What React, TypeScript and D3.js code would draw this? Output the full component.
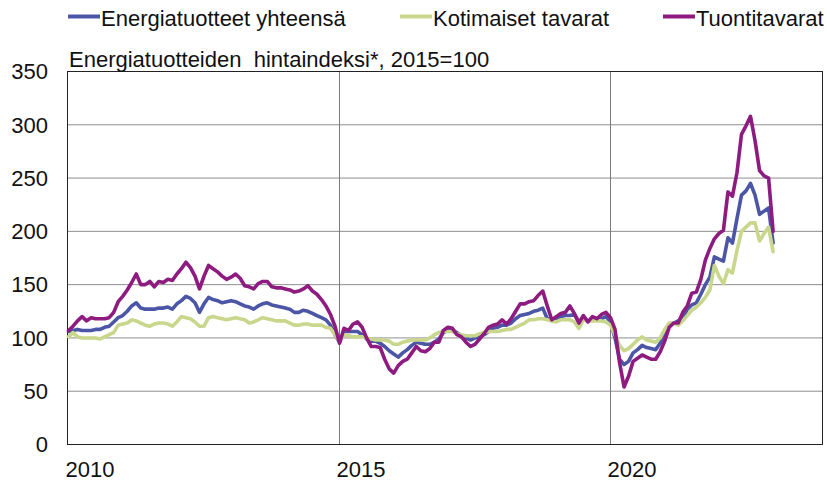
import React from "react";
import * as d3 from "d3";

// Monthly values, Jan 2010 = index 0
const energyTotal: number[] = [
  106,107,108,107,107,107,108,108,110,111,
  115,119,121,125,130,133,128,127,127,127,
  128,128,129,127,132,135,139,137,133,124,
  132,138,136,135,133,134,135,134,132,130,
  129,127,130,132,133,131,130,129,128,127,
  124,124,126,125,123,121,119,117,112,103,
  96,106,106,106,106,103,99,97,97,95,
  92,88,85,82,86,89,93,96,95,94,
  94,96,99,105,107,107,105,102,100,98,
  100,101,103,106,109,110,112,112,114,118,
  121,122,123,125,126,128,118,117,118,120,
  121,121,122,115,119,116,117,117,118,120,
  115,100,80,75,78,86,89,93,91,90,
  89,95,103,112,114,116,118,127,131,133,
  141,150,157,176,174,172,194,189,212,234,
  238,245,234,216,219,222,189,
];

const domestic: number[] = [
  101,105,101,100,100,100,100,99,101,103,
  105,112,113,114,117,116,114,112,111,113,
  114,114,113,111,115,120,119,118,115,111,
  111,119,120,119,118,117,118,119,118,117,
  114,115,117,119,118,117,116,116,116,114,
  112,112,113,113,112,112,112,110,109,103,
  97,103,102,101,101,101,100,99,98,98,
  98,97,94,94,96,97,98,98,98,98,
  100,103,105,106,106,106,104,103,102,102,
  102,104,105,106,106,106,107,108,108,110,
  112,114,117,117,118,118,117,116,115,117,
  117,117,115,109,117,116,116,116,116,115,
  112,103,93,88,90,94,98,101,98,97,
  96,100,108,114,114,112,116,121,126,129,
  133,138,145,168,158,151,164,161,182,200,
  204,208,208,191,198,204,181,
];

const imports: number[] = [
  107,111,116,120,116,119,118,118,118,119,
  124,134,139,145,152,160,150,150,153,148,
  153,152,155,154,160,165,171,166,158,146,
  158,168,165,162,158,155,157,160,156,149,
  148,146,151,153,153,148,147,147,146,145,
  143,144,146,149,144,141,136,130,122,111,
  95,109,107,113,115,110,100,92,92,91,
  80,71,67,74,78,80,86,92,88,87,
  90,96,96,107,110,109,103,101,96,92,
  94,99,104,110,112,113,117,113,118,125,
  132,132,134,135,140,144,130,117,120,123,
  124,130,123,114,121,115,120,118,122,124,
  119,108,77,54,64,78,81,84,82,80,
  80,87,97,110,114,114,124,130,142,143,
  155,173,184,193,198,201,237,233,255,291,
  299,308,285,257,252,250,200,
];

const seriesNames = ["Energiatuotteet yhteensä", "Kotimaiset tavarat", "Tuontitavarat"];
const seriesColors = ["#4b56a6", "#c9d78c", "#8e1b80"];
const yTicks = [0, 50, 100, 150, 200, 250, 300, 350];
const yearLabels = ["2010", "2015", "2020"];
const yearIndex = [0, 60, 120];
const title = "Energiatuotteiden\u00a0 hintaindeksi*, 2015=100";

const FONT = "'Liberation Sans', Arial, sans-serif";

export default function App() {
  const left = 67.5, right = 822.5, top = 71.5, bottom = 444.5;
  const x = d3.scaleLinear().domain([0, 120]).range([68.5, 610.5]);
  const y = d3.scaleLinear().domain([0, 350]).range([bottom, top]);
  const line = d3
    .line<number>()
    .x((_, i) => x(i))
    .y((d) => y(d));
  const all = [energyTotal, domestic, imports];
  const legendX = [68, 400, 663];

  return (
    <svg
      width={827}
      height={484}
      style={{ position: "absolute", left: 0, top: 0, background: "#fff" }}
      fontFamily={FONT}
    >
      <rect x={0} y={0} width={827} height={484} fill="#fff" />
      {yTicks.filter((t) => t > 0 && t < 350).map((t) => (
        <line key={t} x1={left} x2={right} y1={y(t)} y2={y(t)} stroke="#8e8e8e" strokeWidth={1} />
      ))}
      {yearIndex.slice(1).map((i) => (
        <line key={i} x1={x(i)} x2={x(i)} y1={top} y2={bottom} stroke="#7a7a7a" strokeWidth={1} />
      ))}
      <rect x={left} y={top} width={right - left} height={bottom - top} fill="none" stroke="#222" strokeWidth={1} />
      {yTicks.map((t) => (
        <text key={t} x={48} y={y(t) + 7.8} textAnchor="end" fontSize={22} fill="#111">
          {t}
        </text>
      ))}
      {yearLabels.map((lab, k) => (
        <text key={lab} x={x(yearIndex[k]) - 3} y={477} fontSize={22} fill="#111">
          {lab}
        </text>
      ))}
      <text x={69} y={67} fontSize={22} fill="#111" style={{ whiteSpace: "pre" }}>
        {title}
      </text>
      {all.map((s, k) => (
        <path
          key={k}
          d={line(s) || ""}
          fill="none"
          stroke={seriesColors[k]}
          strokeWidth={3.6}
          strokeLinejoin="round"
          strokeLinecap="round"
        />
      ))}
      {seriesNames.map((n, k) => (
        <g key={n}>
          <line x1={legendX[k]} x2={legendX[k] + 32} y1={16.5} y2={16.5} stroke={seriesColors[k]} strokeWidth={4} />
          <text x={legendX[k] + 33} y={26} fontSize={22} fill="#111">
            {n}
          </text>
        </g>
      ))}
    </svg>
  );
}
